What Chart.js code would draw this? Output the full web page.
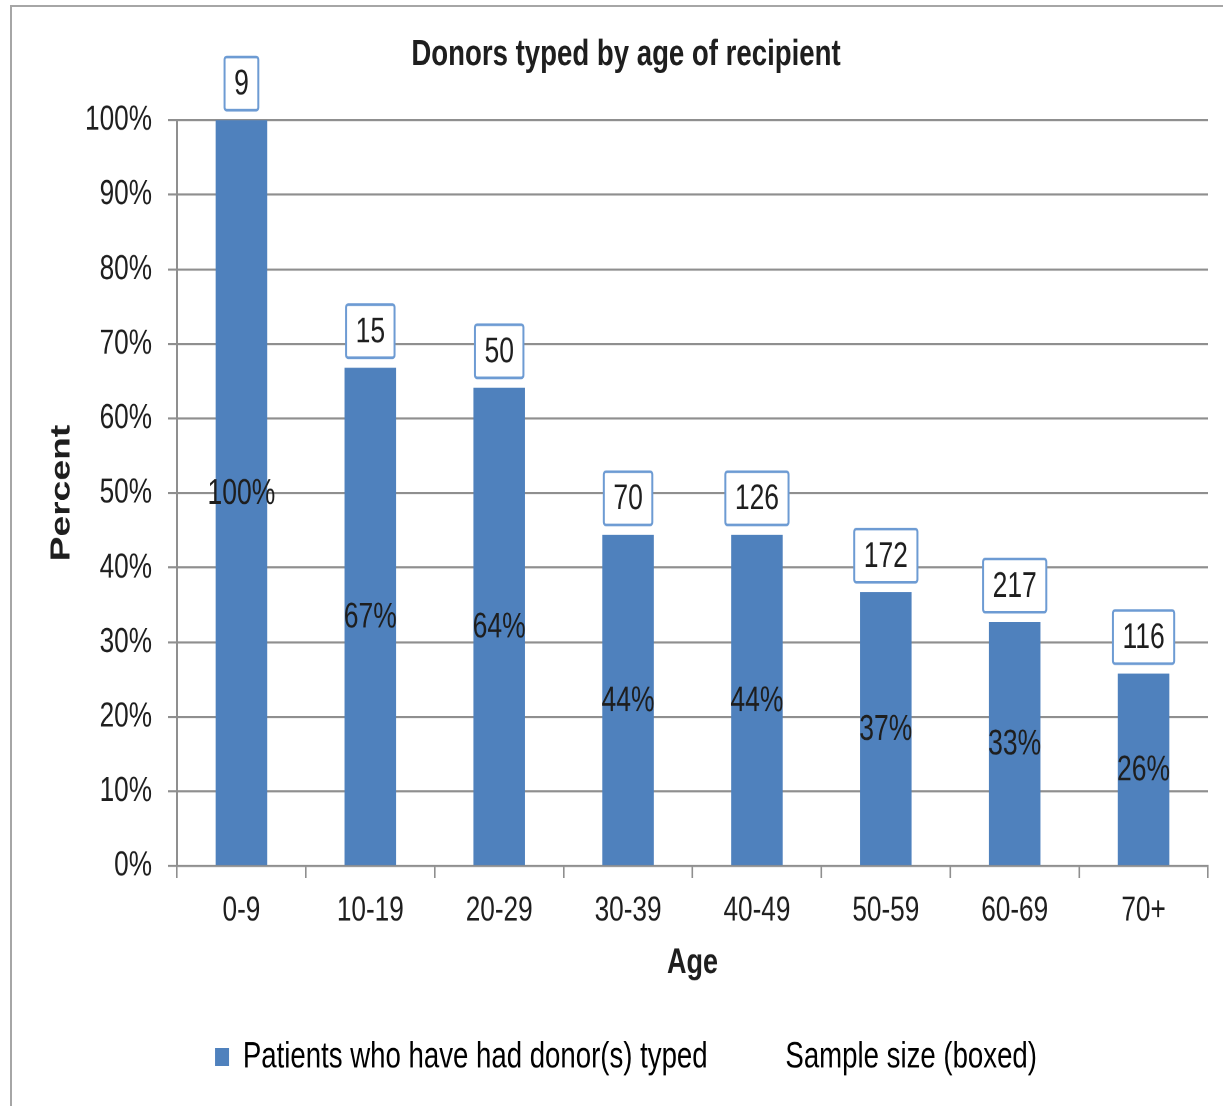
<!DOCTYPE html>
<html>
<head>
<meta charset="utf-8">
<title>Donors typed by age of recipient</title>
<script src="https://cdn.jsdelivr.net/npm/chart.js@4.4.1/dist/chart.umd.min.js"></script>
<style>
    html, body { margin: 0; padding: 0; background: #fff; overflow: hidden; }
    #wrap { position: relative; width: 1223px; height: 1106px; overflow: hidden; }
    /* the source picture is an Excel chart stretched vertically by ~1.33 */
    #chart { position: absolute; left: 0; top: 0; transform-origin: 0 0; transform: scaleY(1.3293); }
    #frame {
        position: absolute; left: 10px; top: 5px; width: 1240px; height: 1120px;
        border-top: 2px solid #a6a6a6; border-left: 2px solid #a6a6a6;
        pointer-events: none;
    }
</style>
</head>
<body>
<div id="wrap">
    <canvas id="chart" width="1223" height="832"></canvas>
    <div id="frame"></div>
</div>
<script>
const ageGroups = ['0-9', '10-19', '20-29', '30-39', '40-49', '50-59', '60-69', '70+'];
const percentTyped = [100, 66.8, 64.1, 44.4, 44.4, 36.7, 32.7, 25.8];
const percentLabels = ['100%', '67%', '64%', '44%', '44%', '37%', '33%', '26%'];
const sampleSizes = [9, 15, 50, 70, 126, 172, 217, 116];
const yTickMax = 100;
const yTickStep = 10;

const FONT = "'Liberation Sans', Arial, sans-serif";
const BAR_BLUE = '#4f81bd';
const BOX_BLUE = '#6d9bd3';
const INK = '#1e1e1e';
const GRID = '#8f8f8f';

// percent text in the middle of each bar + boxed sample size above it
const barLabels = {
    id: 'barLabels',
    afterDatasetsDraw(chart) {
        const ctx = chart.ctx;
        const bars = chart.getDatasetMeta(0).data;
        ctx.save();
        ctx.font = '26.5px ' + FONT;
        ctx.textAlign = 'center';
        ctx.textBaseline = 'middle';
        bars.forEach((bar, i) => {
            ctx.fillStyle = INK;
            ctx.fillText(percentLabels[i], bar.x, (bar.y + bar.base) / 2 + 1);

            const txt = String(sampleSizes[i]);
            const w = ctx.measureText(txt).width + 19;
            const h = 40;
            const bottom = bar.y - 7.5;
            ctx.fillStyle = '#fff';
            ctx.strokeStyle = BOX_BLUE;
            ctx.lineWidth = 2;
            ctx.beginPath();
            ctx.roundRect(bar.x - w / 2, bottom - h, w, h, 2);
            ctx.fill();
            ctx.stroke();
            ctx.fillStyle = INK;
            ctx.fillText(txt, bar.x, bottom - h / 2 + 1);
        });
        ctx.restore();
    }
};

const chart = new Chart(document.getElementById('chart'), {
    type: 'bar',
    data: {
        labels: ageGroups,
        datasets: [{
            label: 'Patients who have had donor(s) typed',
            data: percentTyped,
            backgroundColor: BAR_BLUE,
            borderWidth: 0,
            barPercentage: 0.4,
            categoryPercentage: 1.0
        }]
    },
    options: {
        responsive: false,
        animation: false,
        devicePixelRatio: 2,
        layout: { padding: { top: 10, left: 44, right: 15, bottom: 13 } },
        plugins: {
            title: {
                display: true,
                text: 'Donors typed by age of recipient',
                color: INK,
                font: { family: FONT, size: 27.6, weight: 'bold', lineHeight: 1.2 },
                padding: { top: 14.8, bottom: 32.4 }
            },
            legend: {
                position: 'bottom',
                labels: {
                    color: INK,
                    font: { family: FONT, size: 27.6 },
                    boxWidth: 14,
                    boxHeight: 13.5,
                    padding: 50,
                    generateLabels: () => [
                        { text: 'Patients who have had donor(s) typed', fillStyle: BAR_BLUE, strokeStyle: BAR_BLUE, lineWidth: 0, datasetIndex: 0 },
                        { text: 'Sample size (boxed)', fillStyle: 'rgba(0,0,0,0)', strokeStyle: 'rgba(0,0,0,0)', lineWidth: 0 }
                    ]
                }
            },
            tooltip: { enabled: false }
        },
        scales: {
            x: {
                afterFit: (scale) => { scale.height = 79.9; },
                grid: { drawOnChartArea: false, drawTicks: true, tickLength: 9, color: GRID, lineWidth: 1.6 },
                border: { display: true, color: GRID, width: 1.6 },
                ticks: { color: INK, font: { family: FONT, size: 26.2 }, padding: 9 },
                title: {
                    display: true,
                    text: 'Age',
                    color: INK,
                    font: { family: FONT, size: 27, weight: 'bold', lineHeight: 0.5 },
                    padding: { top: 0, bottom: 0 }
                }
            },
            y: {
                min: 0,
                max: yTickMax,
                afterFit: (scale) => { scale.width = 133; },
                grid: { color: GRID, lineWidth: 1.6, tickLength: 9 },
                border: { display: true, color: GRID, width: 2 },
                ticks: {
                    stepSize: yTickStep,
                    color: INK,
                    font: { family: FONT, size: 26.2 },
                    padding: 16,
                    callback: (v) => v + '%'
                },
                title: {
                    display: true,
                    text: 'Percent',
                    color: INK,
                    font: { family: FONT, size: 28, weight: 'bold', lineHeight: 1 },
                    padding: { top: 4, bottom: 0 }
                }
            }
        }
    },
    plugins: [barLabels]
});
</script>
</body>
</html>
